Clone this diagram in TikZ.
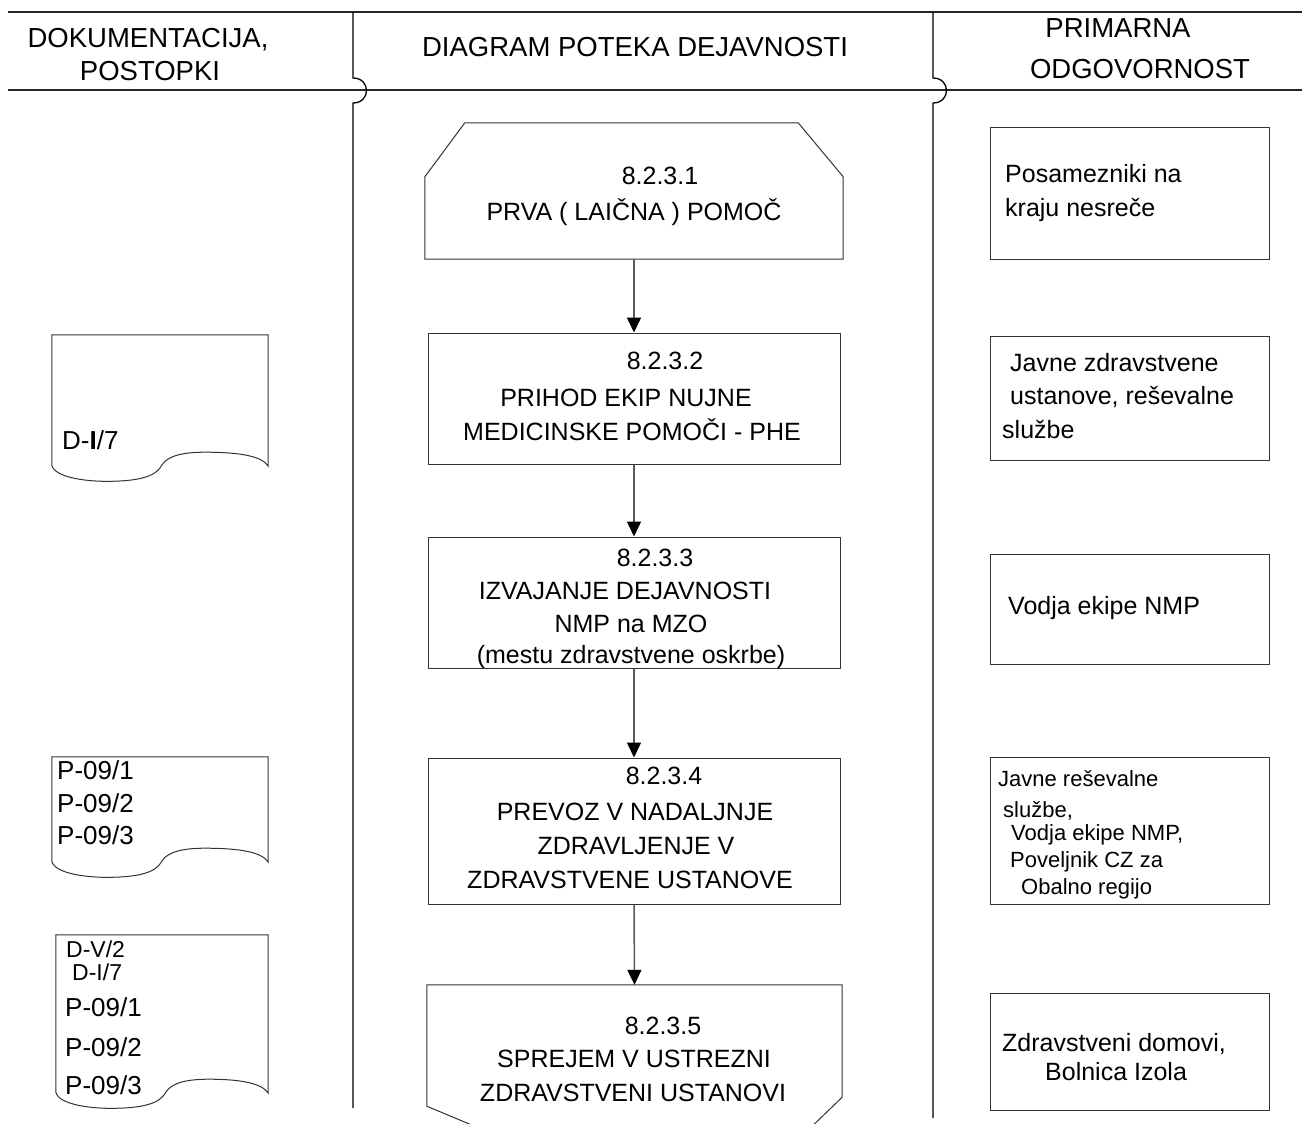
\documentclass[tikz,border=0pt]{standalone}
\usepackage{fontspec}
\setmainfont{Liberation Sans}
\usetikzlibrary{arrows.meta,calc}
\tikzset{
  box/.style={draw=black!80, line width=1pt, minimum width=#1, inner sep=0, fill=none},
  ghost/.style={inner sep=0, minimum width=#1},
  divider/.style={draw=black, line width=1.3pt},
  hline/.style={draw=black!85, line width=1.2pt},
  shp/.style={draw=black!80, line width=1pt},
  arr/.style={draw=black!65, line width=1.5pt, -{Triangle[width=14pt,length=15pt,color=black,fill=black]}},
  hd/.style={font=\fontsize{27.5}{32}\selectfont, inner sep=0, anchor=base},
  mt/.style={font=\fontsize{25}{30}\selectfont, inner sep=0, anchor=base},
  rt/.style={font=\fontsize{25}{30}\selectfont, inner sep=0, anchor=base west},
  rs/.style={font=\fontsize{22}{26}\selectfont, inner sep=0, anchor=base west},
  lt/.style={font=\fontsize{26}{30}\selectfont, inner sep=0, anchor=base west},
  ls/.style={font=\fontsize{23}{27}\selectfont, inner sep=0, anchor=base west},
}
\newcommand\docoutline[1]{%
  \draw[shp] ($(#1.south west)+(0,-1)$) -- (#1.north west) -- (#1.north east) -- (#1.south east)
    .. controls ($(#1.south east)+(-6,-10)$) and ($(#1.south east)+(-28,-14)$) .. ($(#1.south west)+(153,-14)$)
    .. controls ($(#1.south west)+(133,-14)$) and ($(#1.south west)+(116,-11)$) .. ($(#1.south west)+(110,-1)$)
    .. controls ($(#1.south west)+(106,6)$) and ($(#1.south west)+(98,14)$) .. ($(#1.south west)+(63,15)$)
    .. controls ($(#1.south west)+(38,16)$) and ($(#1.south west)+(3,12)$) .. ($(#1.south west)+(0,-1)$);
}
\begin{document}
\begin{tikzpicture}[x=1pt,y=-1pt]
\useasboundingbox[fill=white] (0,0) rectangle (1302,1124);

% header lines
\coordinate (tl) at (8,12);
\coordinate (tr) at (1302,12);
\coordinate (hl) at (8,90);
\coordinate (hr) at (1302,90);
\draw[hline] (tl) -- (tr);
\draw[hline] (hl) -- (hr);

% column dividers with jump-over
\coordinate (d1a) at (353,12);
\coordinate (d1b) at (353,78);
\coordinate (d1c) at (353,103);
\coordinate (d1d) at (353,1108);
\draw[divider] (d1a) -- (d1b) .. controls (371,78) and (371,103) .. (d1c) -- (d1d);
\coordinate (d2a) at (933,12);
\coordinate (d2b) at (933,78);
\coordinate (d2c) at (933,103);
\coordinate (d2d) at (933,1118);
\draw[divider] (d2a) -- (d2b) .. controls (951,78) and (951,103) .. (d2c) -- (d2d);

% header text
\node[hd] (h1) at (148,48) {DOKUMENTACIJA,};
\node[hd] (h2) at (150,81) {POSTOPKI};
\node[hd] (h3) at (635,57) {DIAGRAM POTEKA DEJAVNOSTI};
\node[hd] (h4) at (1118,38) {PRIMARNA};
\node[hd] (h5) at (1140,78) {ODGOVORNOST};

% middle column shapes
\node[ghost=418pt, minimum height=136pt] (b1) at (634,191) {};
\draw[shp] (b1.south west) -- ($(b1.north west)+(0,54)$) -- ($(b1.north west)+(40,0)$)
  -- ($(b1.north east)+(-45,0)$) -- ($(b1.north east)+(0,54)$) -- (b1.south east) -- cycle;
\node[box=412pt, minimum height=131pt] (b2) at (634,398.5) {};
\node[box=412pt, minimum height=131pt] (b3) at (634,602.5) {};
\node[box=412pt, minimum height=146pt] (b4) at (634,831) {};
\node[ghost=415pt, minimum height=139pt] (b5) at (634.5,1054.5) {};
\draw[shp] ($(b5.south west)+(43,0)$) -- ($(b5.south west)+(0,-18)$) -- (b5.north west)
  -- (b5.north east) -- ($(b5.south east)+(0,-27)$) -- ($(b5.south east)+(-28,0)$);

\draw[arr] (b1.south) -- (b2.north);
\draw[arr] (b2.south) -- (b3.north);
\draw[arr] (b3.south) -- (b4.north);
\draw[arr] (b4.south) -- (b5.north);

% middle texts
\node[mt] (t11) at (660,184) {8.2.3.1};
\node[mt] (t12) at (634,220) {PRVA ( LAIČNA ) POMOČ};
\node[mt] (t21) at (665,369) {8.2.3.2};
\node[mt] (t22) at (626,406) {PRIHOD EKIP NUJNE};
\node[mt] (t23) at (632,440) {MEDICINSKE POMOČI - PHE};
\node[mt] (t31) at (655,566) {8.2.3.3};
\node[mt] (t32) at (625,599) {IZVAJANJE DEJAVNOSTI};
\node[mt] (t33) at (631,632) {NMP na MZO};
\node[mt] (t34) at (631,663) {(mestu zdravstvene oskrbe)};
\node[mt] (t41) at (664,784) {8.2.3.4};
\node[mt] (t42) at (635,820) {PREVOZ V NADALJNJE};
\node[mt] (t43) at (636,854) {ZDRAVLJENJE V};
\node[mt] (t44) at (630,888) {ZDRAVSTVENE USTANOVE};
\node[mt] (t51) at (663,1034) {8.2.3.5};
\node[mt] (t52) at (634,1067) {SPREJEM V USTREZNI};
\node[mt] (t53) at (633,1101) {ZDRAVSTVENI USTANOVI};

% right column boxes
\node[box=279pt, minimum height=132pt] (r1) at (1129.5,193) {};
\node[box=279pt, minimum height=124pt] (r2) at (1129.5,398) {};
\node[box=279pt, minimum height=110pt] (r3) at (1129.5,609) {};
\node[box=279pt, minimum height=147pt] (r4) at (1129.5,830.5) {};
\node[box=279pt, minimum height=117pt] (r5) at (1129.5,1051.5) {};

\node[rt] (p11) at (1005,182) {Posamezniki na};
\node[rt] (p12) at (1005,216) {kraju nesreče};
\node[rt] (p21) at (1010,371) {Javne zdravstvene};
\node[rt] (p22) at (1010,404) {ustanove, reševalne};
\node[rt] (p23) at (1002,438) {službe};
\node[rt] (p31) at (1008,614) {Vodja ekipe NMP};
\node[rs] (p41) at (998,786) {Javne reševalne};
\node[rs] (p42) at (1003,817) {službe,};
\node[rs] (p43) at (1011,840) {Vodja ekipe NMP,};
\node[rs] (p44) at (1010,867) {Poveljnik CZ za};
\node[rs] (p45) at (1021,894) {Obalno regijo};
\node[rt] (p51) at (1002,1051) {Zdravstveni domovi,};
\node[rt] (p52) at (1045,1080) {Bolnica Izola};

% left column documents
\node[ghost=216pt, minimum height=131pt] (dc1) at (160,400.5) {};
\docoutline{dc1}
\node[ghost=216pt, minimum height=105pt] (dc2) at (160,809.5) {};
\docoutline{dc2}
\node[ghost=212pt, minimum height=158pt] (dc3) at (162,1014) {};
\docoutline{dc3}

\node[lt] (q11) at (62,449) {D-\textbf{I}/7};
\node[lt] (q21) at (57,779) {P-09/1};
\node[lt] (q22) at (57,812) {P-09/2};
\node[lt] (q23) at (57,844) {P-09/3};
\node[ls] (q31) at (66,957) {D-V/2};
\node[ls] (q32) at (72,980) {D-I/7};
\node[lt] (q33) at (65,1016) {P-09/1};
\node[lt] (q34) at (65,1056) {P-09/2};
\node[lt] (q35) at (65,1094) {P-09/3};
\end{tikzpicture}
\end{document}
